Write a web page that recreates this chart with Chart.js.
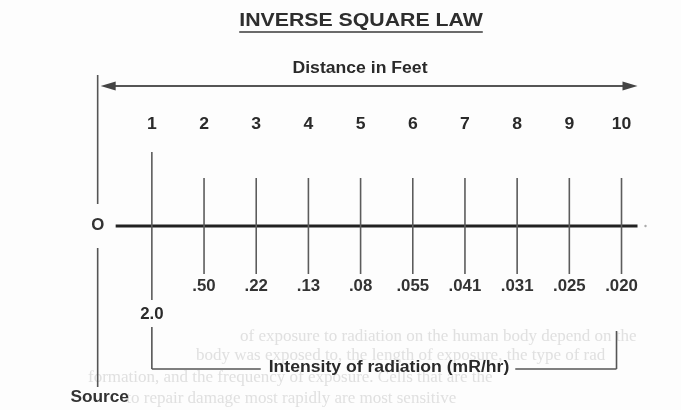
<!DOCTYPE html>
<html>
<head>
  <title>Inverse Square Law</title>
  <script src="https://cdn.jsdelivr.net/npm/chart.js"></script>
  <style>
    html, body {
      margin: 0;
      padding: 0;
      background: #fdfdfd;
    }

    #wrap {
      width: 681px;
      height: 410px;
    }
  </style>
</head>
<body>
  <div id="wrap">
    <canvas id="lawChart" width="681" height="410"></canvas>
  </div>

  <script>
    // distance from the source, in feet
    const distances = [1, 2, 3, 4, 5, 6, 7, 8, 9, 10];
    // intensity of radiation at each distance, mR/hr
    const intensities = [2.0, 0.50, 0.22, 0.13, 0.08, 0.055, 0.041, 0.031, 0.025, 0.020];
    const intensityLabels = ["2.0", ".50", ".22", ".13", ".08", ".055", ".041", ".031", ".025", ".020"];
    const distanceLabels = distances.map(d => String(d));

    // faint text showing through from the next page of the scan
    const bleedLines = [
      "of exposure to radiation on the human body depend on the",
      "body was exposed to, the length of exposure, the type of rad",
      "formation, and the frequency of exposure. Cells that are the",
      "         to repair damage most rapidly are most sensitive"
    ];

    const SANS = "'Liberation Sans', Arial, sans-serif";
    const INK = "#2a2a2a";
    const LINE = "#555";

    function stretchText(ctx, text, x, y, size, color, stretch) {
      ctx.save();
      ctx.font = "bold " + size + "px " + SANS;
      ctx.fillStyle = color || INK;
      ctx.textAlign = "center";
      ctx.textBaseline = "middle";
      ctx.translate(x, y);
      ctx.scale(stretch || 1.1, 1);
      ctx.fillText(text, 0, 0);
      const w = ctx.measureText(text).width * (stretch || 1.1);
      ctx.restore();
      return w;
    }

    function seg(ctx, x1, y1, x2, y2, width, color) {
      ctx.save();
      ctx.strokeStyle = color || LINE;
      ctx.lineWidth = width || 1.5;
      ctx.beginPath();
      ctx.moveTo(x1, y1);
      ctx.lineTo(x2, y2);
      ctx.stroke();
      ctx.restore();
    }

    function arrowHead(ctx, tipX, y, dir) {
      ctx.save();
      ctx.fillStyle = "#444";
      ctx.beginPath();
      ctx.moveTo(tipX, y);
      ctx.lineTo(tipX - dir * 15, y - 4.5);
      ctx.lineTo(tipX - dir * 15, y + 4.5);
      ctx.closePath();
      ctx.fill();
      ctx.restore();
    }

    const diagramPlugin = {
      id: "diagram",
      beforeDatasetsDraw(chart) {
        const ctx = chart.ctx;
        const x = chart.scales.x;
        const y = chart.scales.y;
        const x0 = x.getPixelForValue(0);
        const xEnd = x.getPixelForValue(distances[distances.length - 1]);
        const yLine = y.getPixelForValue(0);

        // bleed-through
        ctx.save();
        ctx.font = "17px 'Liberation Serif', serif";
        ctx.fillStyle = "#e0e0e0";
        ctx.textBaseline = "middle";
        ctx.fillText(bleedLines[0], 240, 337);
        ctx.fillText(bleedLines[1], 196, 356);
        ctx.fillText(bleedLines[2], 88, 378);
        ctx.fillText(bleedLines[3], 88, 399);
        ctx.restore();

        // the main line from the source outwards
        seg(ctx, x0 + 16, yLine, xEnd + 16, yLine, 3, "#222");
        ctx.save();
        ctx.fillStyle = "#aaa";
        ctx.beginPath();
        ctx.arc(xEnd + 24, yLine, 1.2, 0, Math.PI * 2);
        ctx.fill();
        ctx.restore();
      },
      afterDatasetsDraw(chart) {
        const ctx = chart.ctx;
        const x = chart.scales.x;
        const y = chart.scales.y;
        const x0 = x.getPixelForValue(0);
        const xEnd = x.getPixelForValue(distances[distances.length - 1]);
        const yLine = y.getPixelForValue(0);

        // title with underline
        const tw = stretchText(ctx, "INVERSE SQUARE LAW", 361, 21, 19, "#2e2e2e", 1.12);
        seg(ctx, 361 - tw / 2, 32, 361 + tw / 2, 32, 1.6, "#3a3a3a");

        // distance arrow
        stretchText(ctx, "Distance in Feet", 360, 69, 16, INK, 1.1);
        seg(ctx, x0 + 6, 86, xEnd + 8, 86, 2, "#555");
        arrowHead(ctx, x0 + 1, 86, -1);
        arrowHead(ctx, xEnd + 16, 86, 1);

        // source line, broken around the "O"
        seg(ctx, x0 - 2, 75, x0 - 2, 204, 1.6, LINE);
        seg(ctx, x0 - 2, 248, x0 - 2, 387, 1.6, LINE);
        stretchText(ctx, "O", x0 - 2, yLine, 16, "#333", 1.05);
        stretchText(ctx, "Source", x0, 398, 16, "#333", 1.08);

        // distance labels
        distances.forEach((d, i) => {
          stretchText(ctx, distanceLabels[i], x.getPixelForValue(d), 125, 16, INK, 1.1);
        });

        // intensity labels
        intensities.forEach((v, i) => {
          const px = x.getPixelForValue(distances[i]);
          if (i === 0) {
            stretchText(ctx, intensityLabels[i], px, 315, 16, INK, 1.05);
          } else {
            stretchText(ctx, intensityLabels[i], px, 287, 16, "#333", 1.05);
          }
        });

        // bracket
        const x1 = x.getPixelForValue(distances[0]);
        const by = 369;
        const lw = stretchText(ctx, "Intensity of radiation (mR/hr)", 389, by - 1, 16, INK, 1.1);
        seg(ctx, x1, 327, x1, by, 1.6, LINE);
        seg(ctx, x1, by, 389 - lw / 2 - 8, by, 1.6, LINE);
        seg(ctx, 389 + lw / 2 + 6, by, xEnd - 5, by, 1.6, LINE);
        seg(ctx, xEnd - 5, by, xEnd - 5, 331, 1.6, LINE);
      }
    };

    const ctx = document.getElementById("lawChart").getContext("2d");
    new Chart(ctx, {
      type: "scatter",
      data: {
        datasets: [{
          label: "Intensity",
          data: distances.map(d => ({ x: d, y: 0 })),
          pointStyle: "line",
          rotation: 90,
          pointRadius: c => c.dataIndex === 0 ? 74 : 48,
          pointHoverRadius: c => c.dataIndex === 0 ? 74 : 48,
          borderColor: "#5c5c5c",
          borderWidth: 1.6,
          showLine: false,
          clip: false
        }]
      },
      options: {
        responsive: false,
        animation: false,
        events: [],
        layout: { padding: 0, autoPadding: false },
        plugins: {
          legend: { display: false },
          title: { display: false },
          tooltip: { enabled: false }
        },
        scales: {
          x: { type: "linear", min: -1.91, max: 11.14, display: false },
          y: { type: "linear", min: -184, max: 226, display: false }
        }
      },
      plugins: [diagramPlugin]
    });
  </script>
</body>
</html>
